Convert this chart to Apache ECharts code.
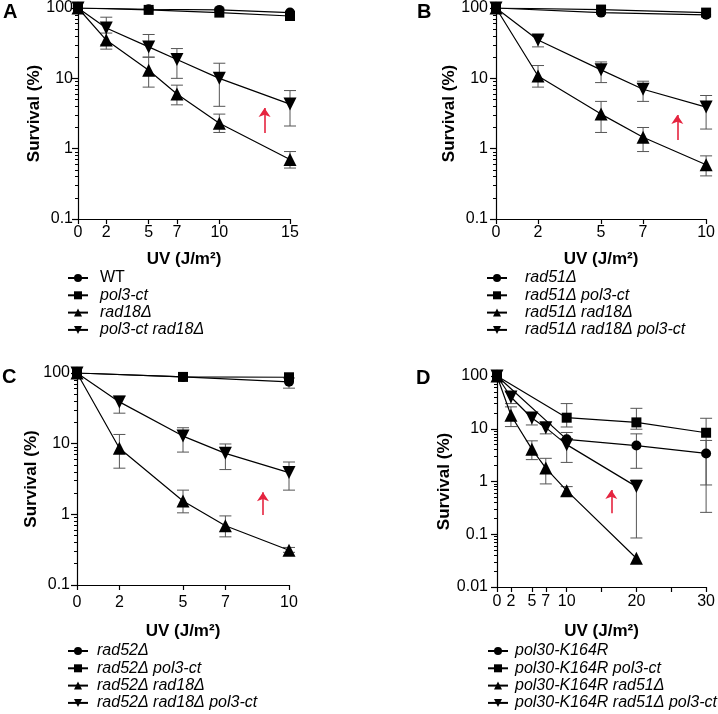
<!DOCTYPE html>
<html><head><meta charset="utf-8">
<script src="https://cdn.jsdelivr.net/npm/echarts@6.0.0/dist/echarts.min.js"></script>
<style>html,body{margin:0;padding:0;background:#fff}#c{width:718px;height:714px}</style>
</head><body><div id="c"></div>
<script>
// ---------------- DATA ----------------
// Panel A
const A_names = ['WT','pol3-ct','rad18Δ','pol3-ct rad18Δ'];
const A_xTicks = [0,2,5,7,10,15];
const A_circle_x = [0,5,10,15];   const A_circle_y = [100,96,94,86];
const A_square_x = [0,5,10,15];   const A_square_y = [100,94,86,77];
const A_up_x = [0,2,5,7,10,15];   const A_up_y = [100,35,13,6,2.3,0.7];
const A_up_lo = [null,26,7.5,4.2,1.7,0.53]; const A_up_hi = [null,44,20,8,3.1,0.91];
const A_down_x = [0,2,5,7,10,15]; const A_down_y = [100,52,28,18.5,10,4.3];
const A_down_lo = [null,30,20,10,4,2.1];    const A_down_hi = [null,74,42,26.5,16.4,6.7];
const A_arrow = [13.2,1.67,3.8];

// Panel B
const B_names = ['rad51Δ','rad51Δ pol3-ct','rad51Δ rad18Δ','rad51Δ rad18Δ pol3-ct'];
const B_xTicks = [0,2,5,7,10];
const B_circle_x = [0,5,10];      const B_circle_y = [100,86,80];
const B_square_x = [0,5,10];      const B_square_y = [100,95,86];
const B_up_x = [0,2,5,7,10];      const B_up_y = [100,10.8,3.1,1.45,0.59];
const B_up_lo = [null,7.5,1.7,0.91,0.41];  const B_up_hi = [null,15.2,4.7,2.0,0.79];
const B_down_x = [0,2,5,7,10];    const B_down_y = [100,35,13.2,7.0,3.9];
const B_down_lo = [null,28,8.7,4.7,1.9];   const B_down_hi = [null,40,17.1,9.1,5.7];
const B_arrow = [8.63,1.33,3.0];

// Panel C
const C_names = ['rad52Δ','rad52Δ pol3-ct','rad52Δ rad18Δ','rad52Δ rad18Δ pol3-ct'];
const C_xTicks = [0,2,5,7,10];
const C_circle_x = [0,5,10];      const C_circle_y = [100,88,75];
const C_circle_lo = [null,null,61]; const C_circle_hi = [null,null,85];
const C_square_x = [0,5,10];      const C_square_y = [100,88,87];
const C_up_x = [0,2,5,7,10];      const C_up_y = [100,8.6,1.54,0.69,0.31];
const C_up_lo = [null,4.5,1.05,0.48,0.29]; const C_up_hi = [null,13.5,2.2,0.95,0.34];
const C_down_x = [0,2,5,7,10];    const C_down_y = [100,39,12.8,7.3,3.9];
const C_down_lo = [null,27,7.6,4.3,2.2];   const C_down_hi = [null,47,16.8,9.9,5.5];
const C_arrow = [8.77,0.98,2.05];

// Panel D
const D_names = ['pol30-K164R','pol30-K164R pol3-ct','pol30-K164R rad51Δ','pol30-K164R rad51Δ pol3-ct'];
const D_xTicks = [0,2,5,7,10,15,20,25,30];
const D_xLabels = [0,2,5,7,10,20,30];
const D_circle_x = [0,10,20,30];  const D_circle_y = [100,6.3,4.8,3.4];
const D_circle_lo = [null,null,1.78,0.26]; const D_circle_hi = [null,null,8,6];
const D_square_x = [0,10,20,30];  const D_square_y = [100,16.2,13.2,8.4];
const D_square_lo = [null,10.8,9.8,0.86];  const D_square_hi = [null,30,24.4,15.8];
const D_up_x = [0,2,5,7,10,20];   const D_up_y = [100,18,4.1,1.8,0.67,0.035];
const D_up_lo = [null,11,2.6,0.9,0.53,null]; const D_up_hi = [null,26,5.9,2.75,0.8,null];
const D_down_x = [0,2,5,7,10,20]; const D_down_y = [100,40,16,10.5,5,0.8];
const D_down_lo = [null,30,11.8,8,2.3,0.085]; const D_down_hi = [null,50,20,12,8.5,1.07];
const D_arrow = [16.4,0.25,0.69];

// ---------------- BUILD ----------------
const FONT = '"Liberation Sans", Arial, Helvetica, sans-serif';
const zip = (xs, ys) => xs.map((x, i) => [x, ys[i]]);
const errs = (xs, lo, hi) => xs.map((x, i) => [x, lo[i], hi[i]]).filter(d => d[1] != null && d[2] != null);

const panels = [
  {letter:'A', names:A_names, xMax:15, yMin:0.1, xTicks:A_xTicks, xLabels:A_xTicks,
   grid:{left:78, top:8, width:212, height:211}, letterPos:[3,2],
   series:[[A_circle_x,A_circle_y],[A_square_x,A_square_y],[A_up_x,A_up_y],[A_down_x,A_down_y]],
   errors:[...errs(A_up_x,A_up_lo,A_up_hi), ...errs(A_down_x,A_down_lo,A_down_hi)],
   arrow:A_arrow, yLabMargin:5, yNameGap:29, xLabMargin:6, xNameGap:32,
   legend:{left:67, top:270, pad:7}},
  {letter:'B', names:B_names, xMax:10, yMin:0.1, xTicks:B_xTicks, xLabels:B_xTicks,
   grid:{left:496, top:8, width:212, height:211}, letterPos:[417,2],
   series:[[B_circle_x,B_circle_y],[B_square_x,B_square_y],[B_up_x,B_up_y],[B_down_x,B_down_y]],
   errors:[...errs(B_up_x,B_up_lo,B_up_hi), ...errs(B_down_x,B_down_lo,B_down_hi)],
   arrow:B_arrow, yLabMargin:8, yNameGap:33, xLabMargin:6, xNameGap:32,
   legend:{left:486, top:270, pad:13}},
  {letter:'C', names:C_names, xMax:10, yMin:0.1, xTicks:C_xTicks, xLabels:C_xTicks,
   grid:{left:77, top:373, width:212, height:212}, letterPos:[2,367],
   series:[[C_circle_x,C_circle_y],[C_square_x,C_square_y],[C_up_x,C_up_y],[C_down_x,C_down_y]],
   errors:[...errs(C_circle_x,C_circle_lo,C_circle_hi), ...errs(C_up_x,C_up_lo,C_up_hi), ...errs(C_down_x,C_down_lo,C_down_hi)],
   arrow:C_arrow, yLabMargin:7, yNameGap:31, xLabMargin:10, xNameGap:38,
   legend:{left:67, top:643, pad:4}},
  {letter:'D', names:D_names, xMax:30, yMin:0.01, xTicks:D_xTicks, xLabels:D_xLabels,
   grid:{left:497, top:376, width:212, height:211}, letterPos:[416,368],
   series:[[D_circle_x,D_circle_y],[D_square_x,D_square_y],[D_up_x,D_up_y],[D_down_x,D_down_y]],
   errors:[...errs(D_circle_x,D_circle_lo,D_circle_hi), ...errs(D_square_x,D_square_lo,D_square_hi),
           ...errs(D_up_x,D_up_lo,D_up_hi), ...errs(D_down_x,D_down_lo,D_down_hi)],
   arrow:D_arrow, yLabMargin:9, yNameGap:29, xLabMargin:7, xNameGap:36,
   legend:{left:487, top:643, pad:2}}
];

const symbols = [
  {symbol:'circle', size:10, rotate:0},
  {symbol:'rect', size:10, rotate:0},
  {symbol:'triangle', size:13, rotate:0},
  {symbol:'triangle', size:13, rotate:180}
];

function minorTicks(min, max) {
  const out = [];
  for (let d = min; d < max * 0.99; d *= 10) {
    for (let k = 2; k <= 9; k++) out.push(+(d * k).toPrecision(3));
  }
  return out;
}

function errRender(params, api) {
  const x = api.value(0), lo = api.value(1), hi = api.value(2);
  const p1 = api.coord([x, lo]), p2 = api.coord([x, hi]);
  const w = 6;
  const st = {stroke:'#555', lineWidth:1};
  return {type:'group', children:[
    {type:'line', shape:{x1:p1[0], y1:p1[1], x2:p2[0], y2:p2[1]}, style:st},
    {type:'line', shape:{x1:p1[0]-w, y1:p1[1], x2:p1[0]+w, y2:p1[1]}, style:st},
    {type:'line', shape:{x1:p2[0]-w, y1:p2[1], x2:p2[0]+w, y2:p2[1]}, style:st}
  ]};
}

const option = {
  backgroundColor:'#fff',
  animation:false,
  title:[], grid:[], xAxis:[], yAxis:[], series:[], legend:[]
};

panels.forEach((p, i) => {
  option.title.push({text:p.letter, left:p.letterPos[0], top:p.letterPos[1], padding:0,
    textStyle:{fontFamily:FONT, fontWeight:'bold', fontSize:20, color:'#000'}});
  option.grid.push(Object.assign({containLabel:false}, p.grid));
  option.xAxis.push({
    gridIndex:i, type:'value', min:0, max:p.xMax,
    axisLine:{show:true, onZero:false, lineStyle:{color:'#000', width:1.2}},
    axisTick:{show:true, customValues:p.xTicks, length:5, lineStyle:{color:'#000', width:1.2}},
    axisLabel:{customValues:p.xLabels, margin:p.xLabMargin, fontFamily:FONT, fontSize:16, color:'#000'},
    splitLine:{show:false},
    name:'UV (J/m²)', nameLocation:'middle', nameGap:p.xNameGap,
    nameTextStyle:{fontFamily:FONT, fontWeight:'bold', fontSize:17, color:'#000'}
  });
  option.yAxis.push({
    gridIndex:i, type:'log', logBase:10, min:p.yMin, max:100, position:'left',
    axisLine:{show:true, onZero:false, lineStyle:{color:'#000', width:1.2}},
    axisTick:{show:true, length:6, lineStyle:{color:'#000', width:1.2}},
    axisLabel:{margin:p.yLabMargin, fontFamily:FONT, fontSize:16, color:'#000',
      formatter:v => String(+(+v).toPrecision(3))},
    splitLine:{show:false},
    name:'Survival (%)', nameLocation:'middle', nameGap:p.yNameGap, nameRotate:90,
    nameTextStyle:{fontFamily:FONT, fontWeight:'bold', fontSize:17, color:'#000'}
  });
  option.yAxis.push({
    gridIndex:i, type:'log', logBase:10, min:p.yMin, max:100, position:'left', offset:0,
    axisLine:{show:false},
    axisTick:{show:true, length:3, customValues:minorTicks(p.yMin, 100), lineStyle:{color:'#000', width:1}},
    axisLabel:{show:false}, splitLine:{show:false}
  });
  option.series.push({
    type:'custom', name:'err'+i, xAxisIndex:i, yAxisIndex:2*i, data:p.errors,
    encode:{x:0, y:[1,2]}, renderItem:errRender, z:1, silent:true
  });
  p.series.forEach((s, k) => {
    const ser = {
      type:'line', name:p.names[k], xAxisIndex:i, yAxisIndex:2*i,
      data:zip(s[0], s[1]),
      symbol:symbols[k].symbol, symbolSize:symbols[k].size, symbolRotate:symbols[k].rotate,
      showAllSymbol:true,
      lineStyle:{color:'#000', width:1.2}, itemStyle:{color:'#000', borderWidth:0},
      z:3, silent:true
    };
    if (k === 2) {
      ser.markLine = {
        silent:true, symbol:['none','arrow'], symbolSize:9,
        lineStyle:{color:'#e5243f', width:1.6, type:'solid'},
        label:{show:false},
        data:[[{coord:[p.arrow[0], p.arrow[1]]}, {coord:[p.arrow[0], p.arrow[2]]}]]
      };
    }
    option.series.push(ser);
  });
  option.legend.push({
    orient:'vertical', left:p.legend.left, top:p.legend.top, padding:0, height:80,
    itemWidth:20, itemHeight:10, itemGap:1.3, selectedMode:false,
    textStyle:{fontFamily:FONT, fontSize:16, color:'#000', lineHeight:16, padding:[0,0,0,p.legend.pad]},
    data:p.names.map(n => ({name:n, textStyle:{fontStyle: n === 'WT' ? 'normal' : 'italic'}}))
  });
});

const chart = echarts.init(document.getElementById('c'), null, {renderer:'canvas'});
chart.setOption(option);
</script>
</body></html>
